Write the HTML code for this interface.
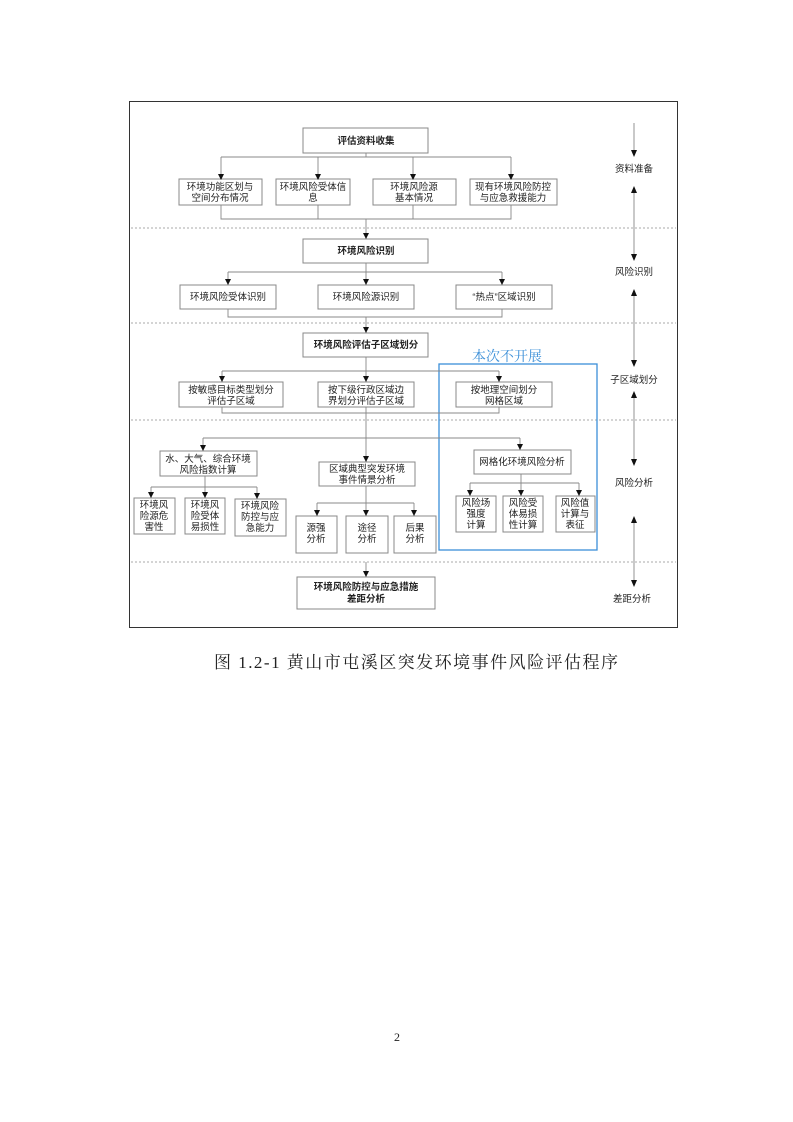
<!DOCTYPE html>
<html><head><meta charset="utf-8"><style>
html,body{margin:0;padding:0;background:#fff;}
svg{display:block;}
.t{font-family:"Liberation Sans","Noto Sans CJK SC",sans-serif;font-size:9.5px;fill:#222;text-anchor:middle;}
.b{font-weight:bold;}
.bx{fill:#fff;stroke:#888;stroke-width:1;}
.ln{stroke:#888;stroke-width:0.9;fill:none;}
.ds{stroke:#aaa;stroke-width:0.9;stroke-dasharray:2,2;}
</style></head><body>
<svg width="793" height="1122" viewBox="0 0 793 1122" xmlns="http://www.w3.org/2000/svg">
<defs><marker id="a" markerWidth="6" markerHeight="6" refX="3" refY="5" orient="auto-start-reverse" markerUnits="userSpaceOnUse"><path d="M0,0 L6,0 L3,6 z" fill="#111" transform="rotate(0)"/></marker>
<marker id="d" viewBox="0 0 6 8" markerWidth="6" markerHeight="8" refX="3" refY="8" orient="auto" markerUnits="userSpaceOnUse"><path d="M0,0 L6,0 L3,8 z" fill="#111" transform="rotate(-90 3 4)"/></marker></defs>
<rect x="129.5" y="101.5" width="548" height="526" fill="#fff" stroke="#333" stroke-width="1"/>
<!-- dashed -->
<line class="ds" x1="131" y1="228" x2="676" y2="228"/>
<line class="ds" x1="131" y1="323" x2="676" y2="323"/>
<line class="ds" x1="131" y1="420" x2="676" y2="420"/>
<line class="ds" x1="131" y1="562" x2="676" y2="562"/>
<!-- arrow helper: down triangles -->
<g fill="#111">
</g>
<!-- section 1 -->
<rect class="bx" x="303" y="128" width="125" height="25"/><text class="t b" x="366" y="144">评估资料收集</text>
<path class="ln" d="M366,153 V157 M221,157 H511 M221,157 V179 M318,157 V179 M413,157 V179 M511,157 V179"/>
<rect class="bx" x="179" y="179" width="83" height="26"/><text class="t" x="220" y="190">环境功能区划与</text><text class="t" x="220" y="201">空间分布情况</text>
<rect class="bx" x="276" y="179" width="74" height="26"/><text class="t" x="313" y="190">环境风险受体信</text><text class="t" x="313" y="201">息</text>
<rect class="bx" x="373" y="179" width="83" height="26"/><text class="t" x="414" y="190">环境风险源</text><text class="t" x="414" y="201">基本情况</text>
<rect class="bx" x="470" y="179" width="87" height="26"/><text class="t" x="513" y="190">现有环境风险防控</text><text class="t" x="513" y="201">与应急救援能力</text>
<path class="ln" d="M221,205 V219 H511 V205 M318,205 V219 M413,205 V219 M366,219 V239"/>
<rect class="bx" x="303" y="239" width="125" height="24"/><text class="t b" x="366" y="254">环境风险识别</text>
<path class="ln" d="M366,263 V272 M228,272 H502 M228,272 V285 M366,272 V285 M502,272 V285"/>
<rect class="bx" x="180" y="285" width="96" height="24"/><text class="t" x="228" y="300">环境风险受体识别</text>
<rect class="bx" x="318" y="285" width="96" height="24"/><text class="t" x="366" y="300">环境风险源识别</text>
<rect class="bx" x="456" y="285" width="96" height="24"/><text class="t" x="504" y="300">“热点”区域识别</text>
<path class="ln" d="M228,309 V317 H502 V309 M366,317 V333"/>
<!-- section 3 -->
<rect class="bx" x="303" y="333" width="125" height="24"/><text class="t b" x="366" y="348">环境风险评估子区域划分</text>
<text x="507" y="361" text-anchor="middle" font-family="Liberation Serif,'Noto Serif CJK SC',serif" font-size="14" fill="#3b8fd8">本次不开展</text>
<rect x="439" y="364" width="158" height="186" fill="none" stroke="#3b8fd8" stroke-width="1.3"/>
<path class="ln" d="M366,357 V382 M222,371 H499 M222,371 V382 M499,371 V382"/>
<rect class="bx" x="179" y="382" width="104" height="25"/><text class="t" x="231" y="393">按敏感目标类型划分</text><text class="t" x="231" y="404">评估子区域</text>
<rect class="bx" x="318" y="382" width="96" height="25"/><text class="t" x="366" y="393">按下级行政区域边</text><text class="t" x="366" y="404">界划分评估子区域</text>
<rect class="bx" x="456" y="382" width="96" height="25"/><text class="t" x="504" y="393">按地理空间划分</text><text class="t" x="504" y="404">网格区域</text>
<path class="ln" d="M222,407 V413 H499 V407 M366,407 V462 M203,438 H520 M203,438 V451 M520,438 V450"/>
<!-- section 4 -->
<rect class="bx" x="160" y="451" width="97" height="25"/><text class="t" x="208" y="462">水、大气、综合环境</text><text class="t" x="208" y="473">风险指数计算</text>
<rect class="bx" x="319" y="462" width="96" height="24"/><text class="t" x="367" y="472">区域典型突发环境</text><text class="t" x="367" y="483">事件情景分析</text>
<rect class="bx" x="474" y="450" width="97" height="24"/><text class="t" x="522" y="465">网格化环境风险分析</text>
<path class="ln" d="M205,476 V487 M151,487 H257 M151,487 V498 M205,487 V498 M257,487 V499"/>
<rect class="bx" x="134" y="498" width="41" height="36"/><text class="t" x="154" y="508">环境风</text><text class="t" x="154" y="519">险源危</text><text class="t" x="154" y="530">害性</text>
<rect class="bx" x="185" y="498" width="40" height="36"/><text class="t" x="205" y="508">环境风</text><text class="t" x="205" y="519">险受体</text><text class="t" x="205" y="530">易损性</text>
<rect class="bx" x="235" y="499" width="51" height="37"/><text class="t" x="260" y="509">环境风险</text><text class="t" x="260" y="520">防控与应</text><text class="t" x="260" y="531">急能力</text>
<path class="ln" d="M366,486 V516 M317,503 H414 M317,503 V516 M414,503 V516"/>
<rect class="bx" x="296" y="516" width="41" height="37"/><text class="t" x="316" y="531">源强</text><text class="t" x="316" y="542">分析</text>
<rect class="bx" x="346" y="516" width="42" height="37"/><text class="t" x="367" y="531">途径</text><text class="t" x="367" y="542">分析</text>
<rect class="bx" x="394" y="516" width="42" height="37"/><text class="t" x="415" y="531">后果</text><text class="t" x="415" y="542">分析</text>
<path class="ln" d="M521,474 V496 M470,483 H579 M470,483 V496 M579,483 V496"/>
<rect class="bx" x="456" y="496" width="40" height="36"/><text class="t" x="476" y="506">风险场</text><text class="t" x="476" y="517">强度</text><text class="t" x="476" y="528">计算</text>
<rect class="bx" x="503" y="496" width="40" height="36"/><text class="t" x="523" y="506">风险受</text><text class="t" x="523" y="517">体易损</text><text class="t" x="523" y="528">性计算</text>
<rect class="bx" x="556" y="496" width="39" height="36"/><text class="t" x="575" y="506">风险值</text><text class="t" x="575" y="517">计算与</text><text class="t" x="575" y="528">表征</text>
<path class="ln" d="M366,562 V577"/>
<rect class="bx" x="297" y="577" width="138" height="32"/><text class="t b" x="366" y="590">环境风险防控与应急措施</text><text class="t b" x="366" y="602">差距分析</text>
<!-- arrowheads down -->
<g fill="#111">
<path d="M218,174 h6 l-3,6z M315,174 h6 l-3,6z M410,174 h6 l-3,6z M508,174 h6 l-3,6z M363,233 h6 l-3,6z M225,279 h6 l-3,6z M363,279 h6 l-3,6z M499,279 h6 l-3,6z M363,327 h6 l-3,6z M219,376 h6 l-3,6z M363,376 h6 l-3,6z M496,376 h6 l-3,6z M200,445 h6 l-3,6z M363,456 h6 l-3,6z M517,444 h6 l-3,6z M148,492 h6 l-3,6z M202,492 h6 l-3,6z M254,493 h6 l-3,6z M314,510 h6 l-3,6z M363,510 h6 l-3,6z M411,510 h6 l-3,6z M467,490 h6 l-3,6z M518,490 h6 l-3,6z M576,490 h6 l-3,6z M363,571 h6 l-3,6z"/>
</g>
<!-- right column -->
<path class="ln" d="M634,123 V153 M634,190 V257 M634,293 V363 M634,395 V462 M634,520 V583"/>
<g fill="#111">
<path d="M631,150 h6 l-3,7z M631,254 h6 l-3,7z M631,360 h6 l-3,7z M631,459 h6 l-3,7z M631,580 h6 l-3,7z"/>
<path d="M631,193 h6 l-3,-7z M631,296 h6 l-3,-7z M631,398 h6 l-3,-7z M631,523 h6 l-3,-7z"/>
</g>
<text class="t" x="634" y="172">资料准备</text>
<text class="t" x="634" y="275">风险识别</text>
<text class="t" x="634" y="383">子区域划分</text>
<text class="t" x="634" y="486">风险分析</text>
<text class="t" x="632" y="602">差距分析</text>
<text x="214" y="668" font-family="Liberation Serif,'Noto Serif CJK SC',serif" font-size="17" fill="#222" textLength="404" lengthAdjust="spacing">图 1.2-1 黄山市屯溪区突发环境事件风险评估程序</text>
<text x="397" y="1041" text-anchor="middle" font-family="Liberation Serif,serif" font-size="12" fill="#222">2</text>
</svg>
</body></html>
